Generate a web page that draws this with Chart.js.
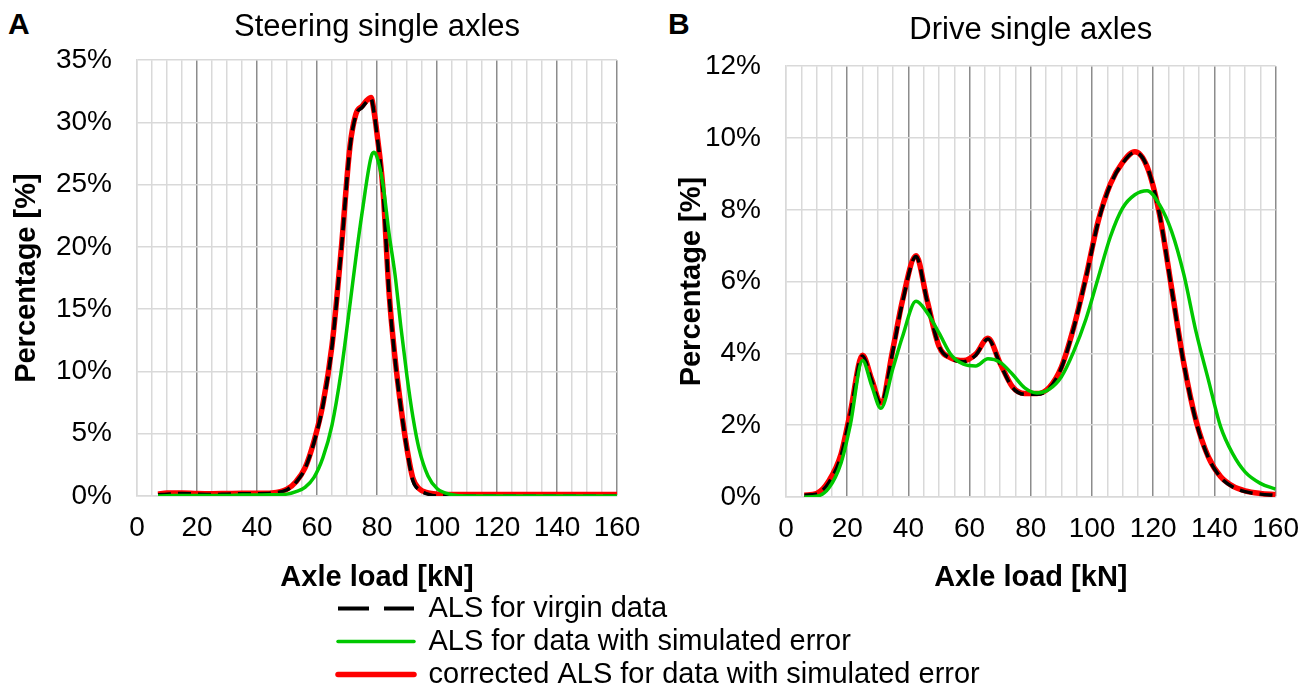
<!DOCTYPE html>
<html>
<head>
<meta charset="utf-8">
<script src="https://cdn.jsdelivr.net/npm/chart.js@4.4.1/dist/chart.umd.min.js"></script>
<style>
  body { margin: 0; width: 1314px; height: 688px; overflow: hidden; background: #fff; position: relative; font-family: "Liberation Sans", Arial, sans-serif; }
  canvas { position: absolute; }
  .letter { position: absolute; font-weight: bold; font-size: 30px; line-height: 1; color: #000; }
</style>
</head>
<body>
<div class="letter" style="left:8px;top:9px">A</div>
<div class="letter" style="left:668px;top:9px">B</div>
<canvas id="chartA" width="657" height="610" style="left:0;top:0"></canvas>
<canvas id="chartB" width="657" height="610" style="left:657px;top:0"></canvas>
<canvas id="legend" width="1400" height="110" style="left:334px;top:590px"></canvas>
<script>
const LABELS = [
  "ALS for virgin data",
  "ALS for data with simulated error",
  "corrected ALS for data with simulated error",
];

// A: steering single axles
const loadsA = [7, 10, 15, 20, 25, 30, 35, 40, 45, 50, 53, 56, 59, 62, 65, 68, 71, 73, 75, 78, 79, 80, 82, 84, 86, 88, 90, 92, 94, 97, 100, 105, 110, 120, 130, 140, 150, 160];
const virginA = [0.1, 0.15, 0.2, 0.15, 0.12, 0.15, 0.18, 0.18, 0.22, 0.5, 1.1, 2.2, 4.3, 7.3, 12.0, 19.5, 28.0, 30.6, 31.2, 31.9, 30.8, 29.0, 24.5, 16.3, 11.0, 7.0, 3.7, 1.2, 0.5, 0.15, 0, 0, 0, 0, 0, 0, 0, 0];
const errorA = [0, 0.02, 0.05, 0.05, 0.05, 0.05, 0.08, 0.08, 0.1, 0.15, 0.35, 0.7, 1.5, 3.1, 5.7, 9.9, 15.4, 19.2, 22.7, 27.2, 27.6, 27.2, 25.0, 21.1, 17.8, 13.5, 9.6, 6.3, 3.8, 1.6, 0.6, 0.1, 0, 0, 0, 0, 0, 0];
const correctedA = [0.15, 0.25, 0.25, 0.2, 0.18, 0.2, 0.22, 0.22, 0.25, 0.55, 1.15, 2.25, 4.4, 7.4, 12.1, 19.6, 28.1, 30.7, 31.3, 32.0, 30.9, 29.1, 24.6, 16.4, 11.1, 7.1, 3.8, 1.4, 0.6, 0.25, 0.15, 0.12, 0.12, 0.12, 0.12, 0.12, 0.12, 0.12];

// B: drive single axles
const loadsB = [6, 10, 14, 18, 21, 25, 28, 31, 35, 38, 42.5, 46, 50, 54, 58, 62, 66, 70, 74, 78, 82, 86, 90, 94, 98, 102, 106, 110, 114, 118, 122, 126, 130, 134, 138, 142, 146, 150, 155, 160];
const virginB = [0.05, 0.08, 0.4, 1.15, 2.3, 3.93, 3.25, 2.6, 4.1, 5.4, 6.7, 5.5, 4.2, 3.85, 3.77, 3.95, 4.4, 3.7, 3.05, 2.86, 2.86, 3.02, 3.6, 4.7, 6.1, 7.65, 8.7, 9.3, 9.6, 9.2, 7.9, 5.8, 3.7, 2.1, 1.1, 0.55, 0.28, 0.15, 0.08, 0.05];
const errorB = [0, 0.02, 0.25, 0.95, 2.0, 3.8, 3.1, 2.47, 3.6, 4.45, 5.45, 5.15, 4.57, 3.95, 3.7, 3.65, 3.85, 3.75, 3.42, 3.04, 2.9, 3.0, 3.35, 4.05, 4.95, 6.1, 7.25, 8.05, 8.42, 8.53, 8.15, 7.4, 6.2, 4.6, 3.27, 1.96, 1.2, 0.7, 0.38, 0.22];
const correctedB = [0.05, 0.1, 0.45, 1.2, 2.35, 3.95, 3.28, 2.62, 4.15, 5.45, 6.72, 5.52, 4.2, 3.87, 3.8, 3.98, 4.42, 3.72, 3.07, 2.88, 2.88, 3.05, 3.62, 4.72, 6.12, 7.68, 8.72, 9.32, 9.62, 9.2, 7.9, 5.82, 3.72, 2.12, 1.12, 0.57, 0.3, 0.17, 0.1, 0.07];

const GREEN = "#00c800";
const RED = "#ff0000";
const LIGHT = "#d9d9d9";
const DARK = "#8c8c8c";

Chart.defaults.font.family = '"Liberation Sans", Arial, sans-serif';
Chart.defaults.color = "#000";

function toPoints(loads, values) {
  return loads.map((x, i) => ({ x: x, y: values[i] }));
}

function xGridColor(value) {
  return value > 0 && value % 20 === 0 ? DARK : LIGHT;
}

function makePanel(id, title, loads, virgin, error, corrected, yMax, yStep, box) {
  const ctx = document.getElementById(id).getContext("2d");
  return new Chart(ctx, {
    type: "line",
    data: {
      datasets: [
        { label: LABELS[1], data: toPoints(loads, error), borderColor: GREEN, borderWidth: 3.5 },
        { label: LABELS[0], data: toPoints(loads, virgin), borderColor: "#000", borderWidth: 3.5, borderDash: [13, 7] },
        { label: LABELS[2], data: toPoints(loads, corrected), borderColor: RED, borderWidth: 5.5 },
      ],
    },
    options: {
      responsive: false,
      animation: false,
      events: [],
      elements: {
        point: { radius: 0 },
        line: { cubicInterpolationMode: "monotone", fill: false },
      },
      layout: { padding: { right: box.right } },
      plugins: {
        legend: { display: false },
        tooltip: { enabled: false },
        title: {
          display: true,
          fullSize: false,
          text: title,
          font: { size: 31, weight: "normal" },
          padding: box.titlePad,
        },
      },
      scales: {
        x: {
          type: "linear",
          min: 0,
          max: 160,
          ticks: {
            stepSize: 5,
            autoSkip: false,
            maxRotation: 0,
            padding: 15,
            font: { size: 28 },
            callback: (v) => (v % 20 === 0 ? v : ""),
          },
          grid: { color: (c) => xGridColor(c.tick.value), lineWidth: 1.5, drawTicks: false },
          border: { color: LIGHT, width: 1.5 },
          title: {
            display: true,
            text: "Axle load [kN]",
            font: { size: 29, weight: "bold" },
            padding: { top: 0, bottom: 15 },
          },
          afterFit: (s) => { s.height = box.xHeight; },
        },
        y: {
          min: 0,
          max: yMax,
          ticks: {
            stepSize: yStep,
            padding: 25,
            font: { size: 28 },
            callback: (v) => v + "%",
          },
          grid: { color: LIGHT, lineWidth: 1.5, drawTicks: false },
          border: { color: LIGHT, width: 1.5 },
          title: {
            display: true,
            text: "Percentage [%]",
            font: { size: 29, weight: "bold" },
            padding: { top: box.yTitlePad, bottom: 0 },
          },
          afterFit: (s) => { s.width = box.yWidth; },
        },
      },
    },
  });
}

window.onload = function () {
  makePanel("chartA", "Steering single axles", loadsA, virginA, errorA, correctedA, 35, 5, {
    right: 40, titlePad: { top: 9, bottom: 14 }, xHeight: 114, yWidth: 137, yTitlePad: 10,
  });
  makePanel("chartB", "Drive single axles", loadsB, virginB, errorB, correctedB, 12, 2, {
    right: 35, titlePad: { top: 12, bottom: 17 }, xHeight: 113, yWidth: 129, yTitlePad: 18,
  });

  // shared legend below both panels
  new Chart(document.getElementById("legend"), {
    type: "line",
    data: {
      datasets: [
        { label: LABELS[0], data: [], borderColor: "#000", borderWidth: 4, borderDash: [31, 15] },
        { label: LABELS[1], data: [], borderColor: GREEN, borderWidth: 3.5, borderCapStyle: "round" },
        { label: LABELS[2], data: [], borderColor: RED, borderWidth: 5.5, borderCapStyle: "round" },
      ],
    },
    options: {
      responsive: false,
      animation: false,
      events: [],
      scales: { x: { display: false }, y: { display: false } },
      plugins: {
        tooltip: { enabled: false },
        legend: {
          position: "left",
          align: "start",
          labels: {
            usePointStyle: true,
            pointStyleWidth: 76,
            padding: 4,
            font: { size: 29 },
            generateLabels: (chart) => chart.data.datasets.map((d, i) => ({
              text: d.label,
              fillStyle: d.borderColor,
              strokeStyle: d.borderColor,
              fontColor: "#000",
              lineWidth: d.borderWidth,
              lineDash: d.borderDash || [],
              lineCap: d.borderCapStyle || "butt",
              pointStyle: "line",
              hidden: false,
              datasetIndex: i,
            })),
          },
        },
      },
    },
  });
};
</script>
</body>
</html>
